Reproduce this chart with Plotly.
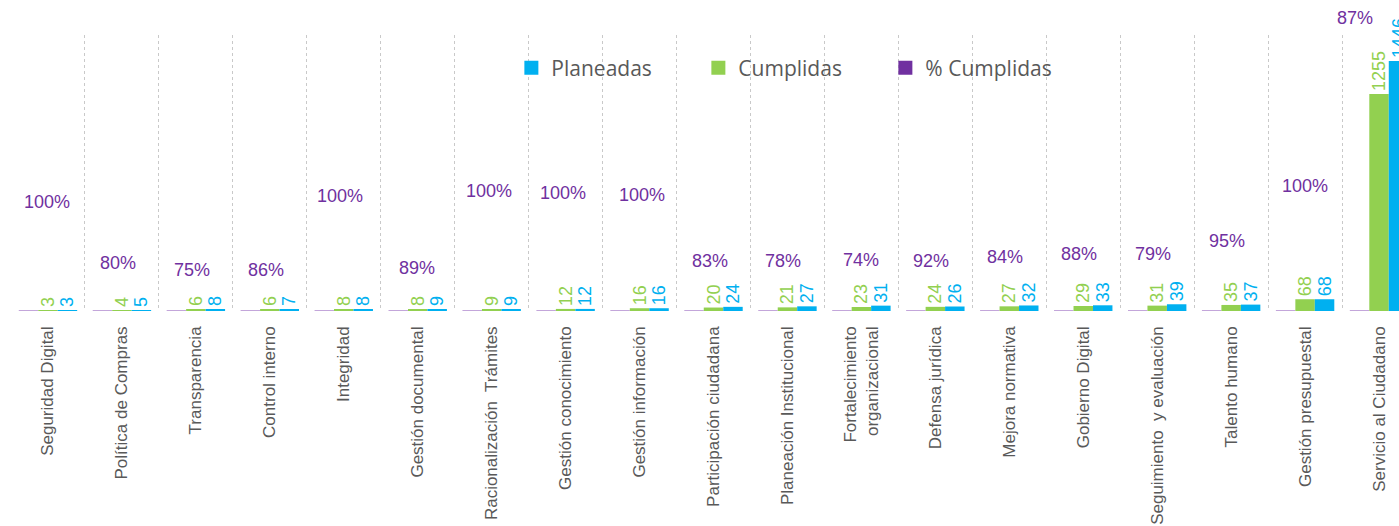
import plotly.graph_objects as go

# categories and values
categorias = ['Seguridad Digital', 'Política de Compras', 'Transparencia', 'Control interno',
              'Integridad', 'Gestión documental', 'Racionalización  Trámites',
              'Gestión conocimiento', 'Gestión información', 'Participación ciudadana',
              'Planeación Institucional', 'Fortalecimiento<br>organizacional', 'Defensa jurídica',
              'Mejora normativa', 'Gobierno Digital', 'Seguimiento  y evaluación',
              'Talento humano', 'Gestión presupuestal', 'Servicio al Ciudadano']
planeadas = [3, 5, 8, 7, 8, 9, 9, 12, 16, 24, 27, 31, 26, 32, 33, 39, 37, 68, 1446]
cumplidas = [3, 4, 6, 6, 8, 8, 9, 12, 16, 20, 21, 23, 24, 27, 29, 31, 35, 68, 1255]
pct_cumplidas = [1.00, 0.80, 0.75, 0.86, 1.00, 0.89, 1.00, 1.00, 1.00, 0.83,
                 0.78, 0.74, 0.92, 0.84, 0.88, 0.79, 0.95, 1.00, 0.87]

# where the % labels were dragged to in the original (pixels from the baseline)
pct_label_dy = [109, 48, 41, 41, 115, 43, 120, 118, 116, 50, 50, 51, 50, 54, 57, 57, 70, 125, 293]
pct_label_dx = [-1, -4, -4, -4, -4, -1, -3, -3, 2, -4, -4, 0, -4, -4, -4, -4, -4, 0, -24]

VERDE = '#92D050'
AZUL = '#00B0F0'
MORADO = '#7030A0'
LAVANDA = '#C3A6DA'   # the % bars are so short they only show as a faint line
GRIS = '#595959'
NUM_FONT = 'Liberation Sans, Arial, sans-serif'

fig = go.Figure()
fig.add_trace(go.Bar(x=categorias, y=pct_cumplidas, name='% Cumplidas', showlegend=False,
                     marker=dict(color=LAVANDA, line=dict(width=0))))
fig.add_trace(go.Bar(x=categorias, y=cumplidas, name='Cumplidas', showlegend=False,
                     marker=dict(color=VERDE, line=dict(width=0)),
                     text=[str(v) for v in cumplidas], textposition='outside',
                     textangle=-90, constraintext='none', cliponaxis=False,
                     textfont=dict(family=NUM_FONT, size=18, color=VERDE)))
fig.add_trace(go.Bar(x=categorias, y=planeadas, name='Planeadas', showlegend=False,
                     marker=dict(color=AZUL, line=dict(width=0)),
                     text=[str(v) for v in planeadas], textposition='outside',
                     textangle=-90, constraintext='none', cliponaxis=False,
                     textfont=dict(family=NUM_FONT, size=18, color=AZUL)))

# legend entries (square keys like the original)
for nombre, color in [('Planeadas', AZUL), ('Cumplidas', VERDE), ('% Cumplidas', MORADO)]:
    fig.add_trace(go.Scatter(x=[None], y=[None], name=nombre, mode='markers',
                             marker=dict(symbol='square', size=14, color=color)))

for i, p in enumerate(pct_cumplidas):
    fig.add_annotation(x=categorias[i], y=0, text=f'{round(p * 100)}%', showarrow=False,
                       xanchor='center', yanchor='middle',
                       xshift=pct_label_dx[i], yshift=pct_label_dy[i],
                       font=dict(family=NUM_FONT, size=18, color=MORADO))

fig.update_layout(
    width=1399, height=526,
    margin=dict(l=11, r=0, t=35, b=215),
    paper_bgcolor='white', plot_bgcolor='white',
    barmode='group', bargap=0.21, bargroupgap=0,
    showlegend=True,
    legend=dict(orientation='h', x=0.3605, y=0.88, xanchor='left', yanchor='middle',
                entrywidth=142, entrywidthmode='pixels',
                font=dict(family='Open Sans, sans-serif', size=21, color=GRIS),
                bgcolor='rgba(0,0,0,0)'),
    xaxis=dict(type='category', range=[-0.5, 18.27], tickangle=-90, automargin=False,
               tickfont=dict(family='Liberation Sans, Arial, sans-serif', size=17, color=GRIS),
               ticklabelstandoff=11,
               showgrid=True, gridcolor='#C9C9C9', gridwidth=1.2, griddash='dot',
               tickson='boundaries', ticks='', showline=False, zeroline=False),
    yaxis=dict(range=[0, 1596], visible=False, automargin=False),
)

# the page body has a default 8px margin; drop it so the figure sits at the corner
fig.write_html('out.html', config={'displayModeBar': False},
               post_script="document.body.style.margin='0';")
